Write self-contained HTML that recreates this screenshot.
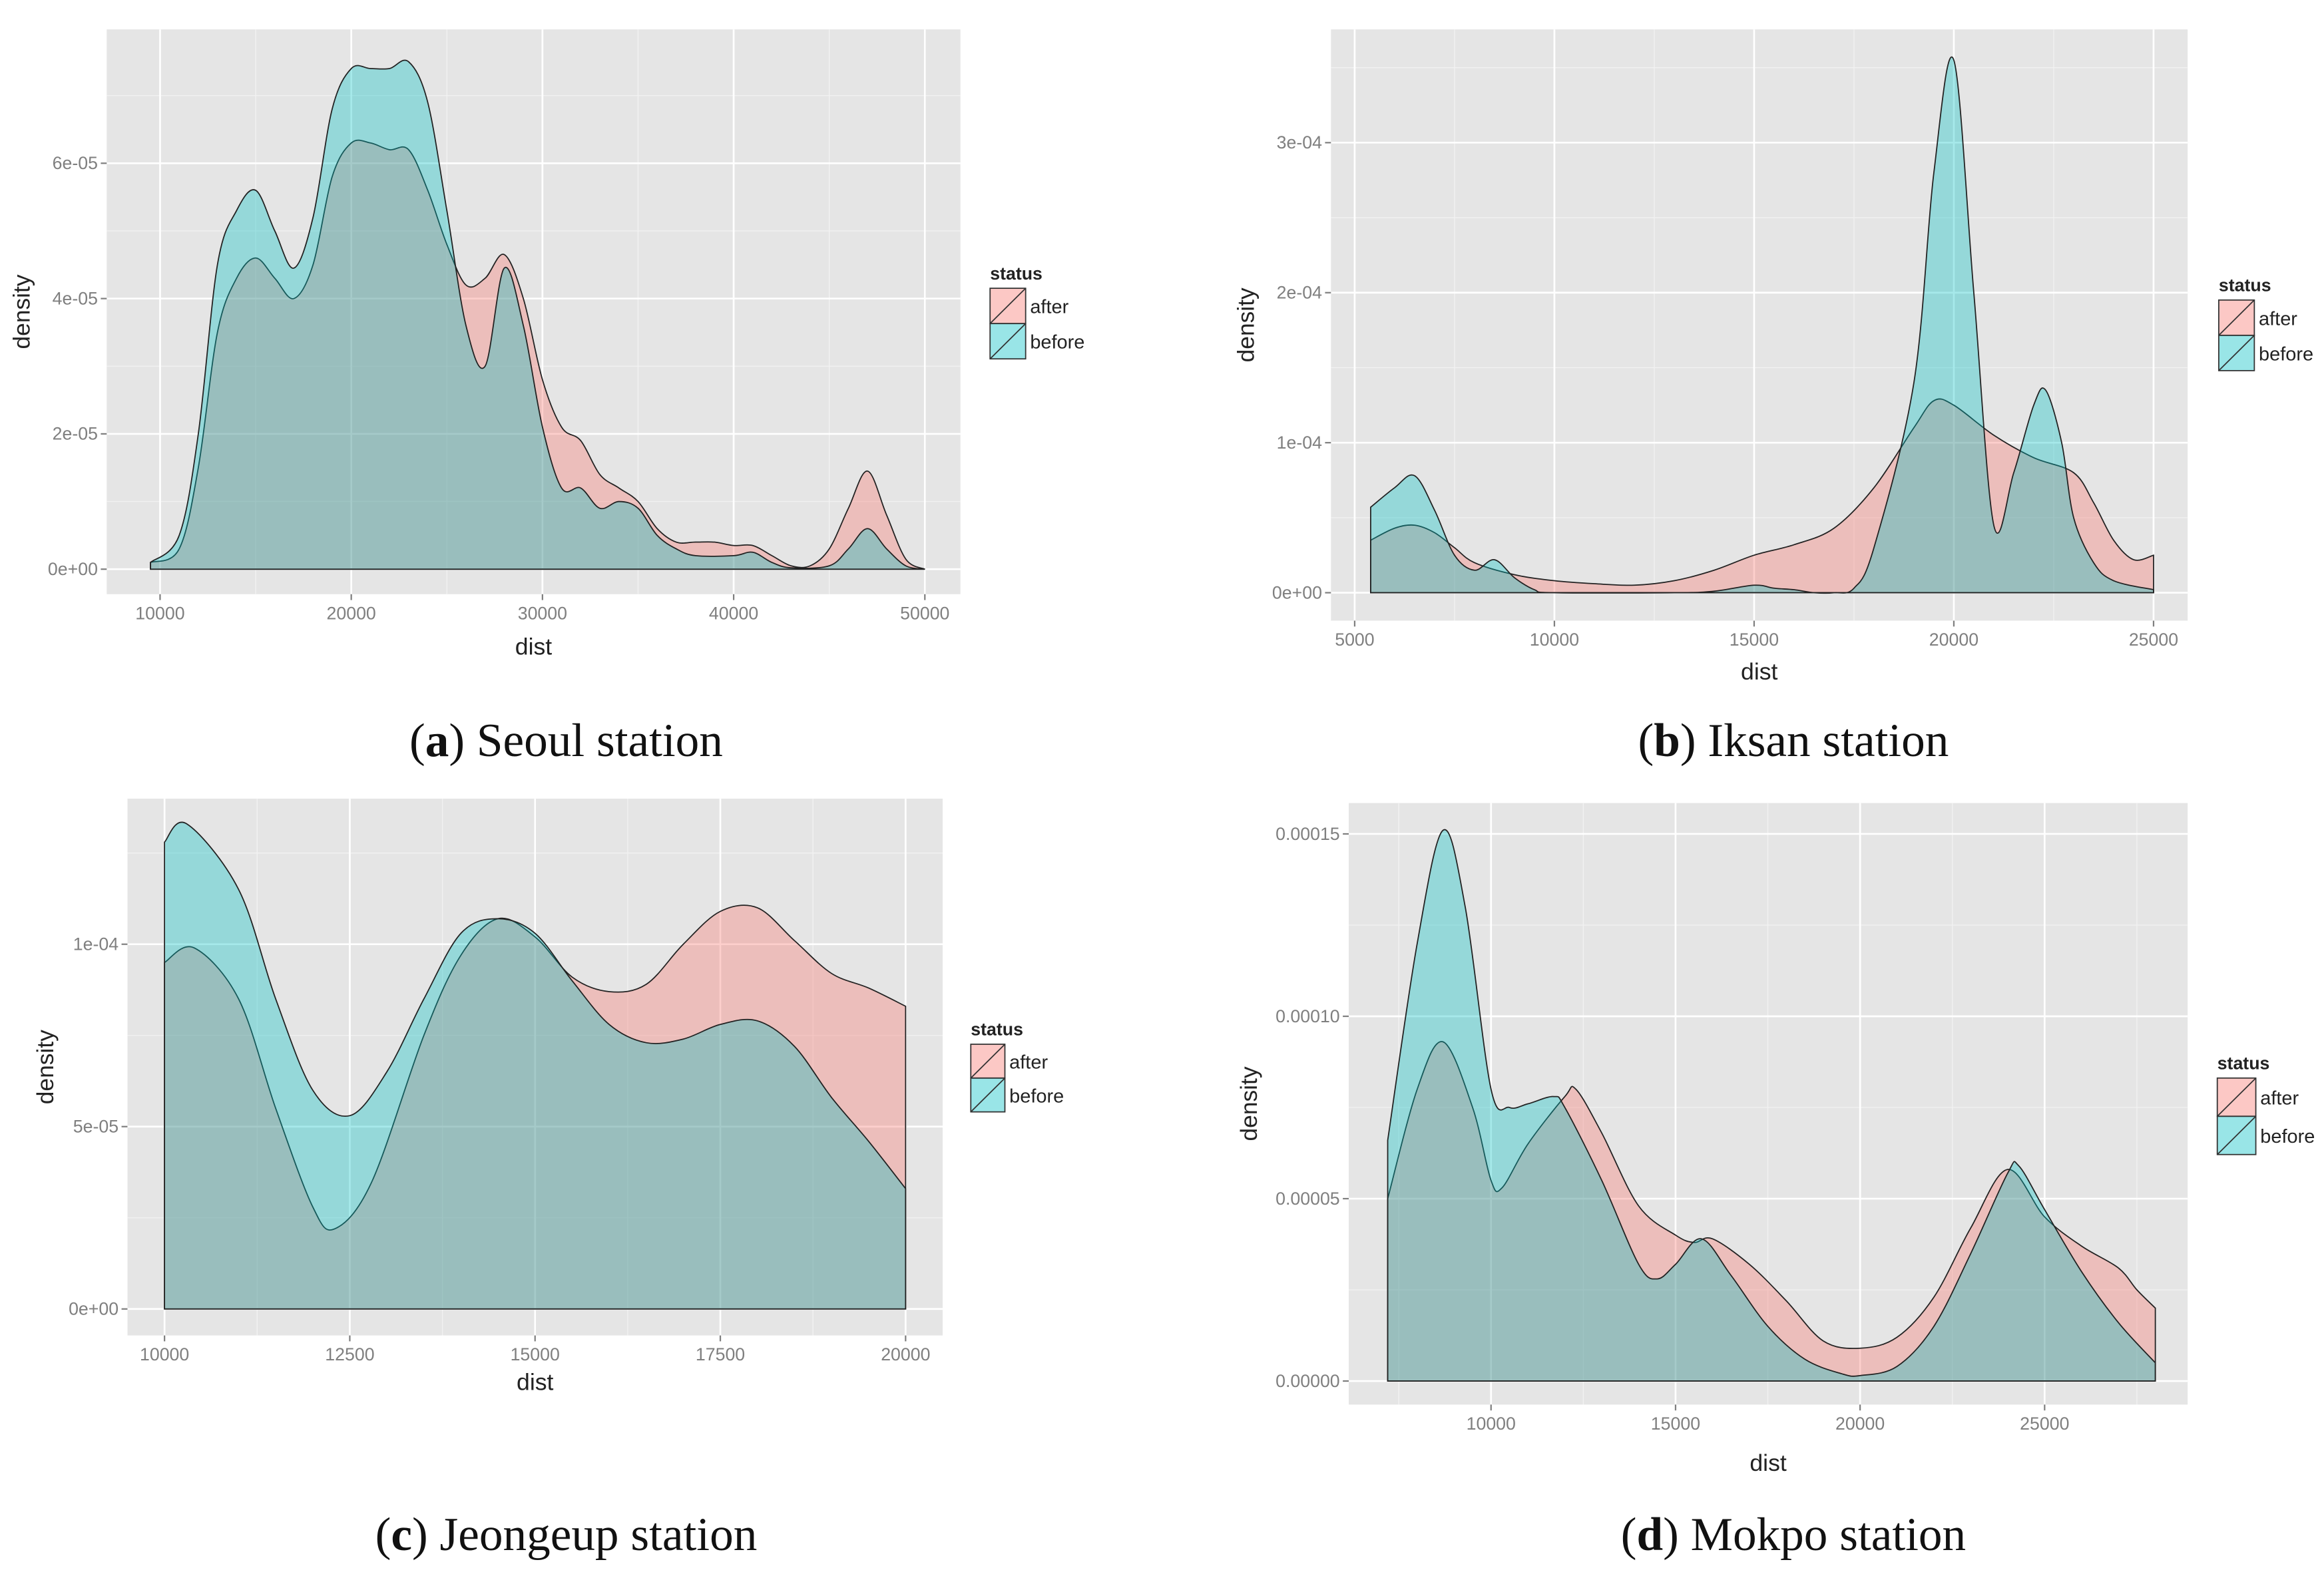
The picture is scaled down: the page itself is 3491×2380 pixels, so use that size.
<!DOCTYPE html>
<html><head><meta charset="utf-8">
<style>
html,body{margin:0;padding:0;background:#fff;}
svg{display:block;}
.tick{font-family:"Liberation Sans",sans-serif;font-size:12px;fill:#7f7f7f;}
.axt{font-family:"Liberation Sans",sans-serif;font-size:16px;fill:#222;}
.leg{font-family:"Liberation Sans",sans-serif;font-size:13px;fill:#222;}
.legt{font-family:"Liberation Sans",sans-serif;font-size:12px;font-weight:bold;fill:#222;}
.cap{font-family:"Liberation Serif",serif;font-size:32px;fill:#111;}
</style></head>
<body>
<svg id="fig" width="3491" height="2380" viewBox="0 0 1568 1077" preserveAspectRatio="none" xmlns="http://www.w3.org/2000/svg"></svg>
<script>
// values in thousands (dist) and 1e-5 (density)
const seoulBeforeX=[9.5,11,12,13,14,15,16,17,18,19,20,21,22,23,24,25,26,27,28,29,30,31,32,33,34,35,36,37,38,40,41,42,43,45,46,47,48,49,50];
const seoulBefore=[0.1,0.5,2,4.5,5.3,5.6,5.0,4.45,5.2,6.8,7.4,7.4,7.4,7.5,6.9,5.3,3.6,3.0,4.45,3.6,2.1,1.2,1.2,0.9,1.0,0.9,0.5,0.3,0.2,0.2,0.25,0.1,0.02,0.05,0.3,0.6,0.3,0.05,0];
const seoulAfterX=[9.5,11,12,13,14,15,16,17,18,19,20,21,22,23,24,25,26,27,28,29,30,31,32,33,34,35,36,37,38,39,40,41,42,43,44,45,46,47,48,49,50];
const seoulAfter=[0.1,0.3,1.5,3.5,4.3,4.6,4.3,4.0,4.5,5.8,6.3,6.3,6.2,6.2,5.6,4.8,4.2,4.3,4.65,4.0,2.8,2.1,1.9,1.4,1.2,1.0,0.6,0.4,0.4,0.4,0.35,0.35,0.2,0.05,0.05,0.3,0.9,1.45,0.8,0.15,0];

const iksanBeforeX=[5.4,6,6.5,7,7.5,8,8.5,9,9.5,10,13,14,15,15.5,16,16.5,17,17.5,18,19,19.5,20,20.5,21,21.5,22,22.3,22.7,23,23.5,24,25];
const iksanBefore=[5.7,7,7.8,5.5,2.5,1.5,2.2,1.0,0.2,0,0,0.1,0.5,0.3,0.2,0,0,0.3,3,14,28,35.5,20,4.5,8,12.5,13.5,10,5,2,0.8,0.2];
const iksanAfterX=[5.4,6,6.5,7,7.5,8,9,10,11,12,13,14,15,16,17,18,19,19.5,20,21,22,23,23.5,24,24.5,25];
const iksanAfter=[3.5,4.3,4.5,4.0,3.0,2.0,1.2,0.8,0.6,0.5,0.8,1.5,2.5,3.2,4.3,7,11,12.8,12.5,10.5,9.0,8,6,3.5,2.2,2.5];

const jeongBeforeX=[10,10.3,11,11.5,12,12.5,13,13.5,14,14.5,15,15.5,16,16.5,17,17.5,18,18.5,19,19.5,20];
const jeongBefore=[12.8,13.3,11.5,8.5,6,5.3,6.5,8.5,10.3,10.7,10.3,9.0,7.8,7.3,7.4,7.8,7.9,7.2,5.8,4.6,3.3];
const jeongAfterX=[10,10.4,11,11.5,12,12.3,12.8,13.5,14,14.5,15,15.5,16,16.5,17,17.5,18,18.5,19,19.5,20];
const jeongAfter=[9.5,9.9,8.5,5.5,2.8,2.2,3.5,7.5,9.7,10.7,10.2,9.1,8.7,8.9,10.0,10.9,11.0,10.1,9.2,8.8,8.3];

const mokpoBeforeX=[7.2,8,8.7,9.3,10,10.5,11,11.7,12,13,14,14.5,15,15.7,16.5,17.5,18.5,19.5,20,21,22,23,24,24.3,25,26,27,28];
const mokpoBefore=[6.6,12,15.1,13,8.0,7.5,7.6,7.8,7.5,5.5,3.2,2.8,3.2,3.9,2.9,1.5,0.6,0.2,0.15,0.4,1.5,3.5,5.7,5.9,4.7,3.0,1.6,0.5];
const mokpoAfterX=[7.2,8,8.7,9.5,10,10.3,11,12,12.3,13,14,15,15.5,16,17,18,19,20,21,22,23,24,25,26,27,27.5,28];
const mokpoAfter=[5.0,8.0,9.3,7.5,5.5,5.3,6.5,7.8,8.0,6.8,4.8,4.0,3.8,3.9,3.2,2.2,1.1,0.9,1.2,2.3,4.2,5.8,4.5,3.7,3.1,2.5,2.0];

const seoulXTicks=["10000","20000","30000","40000","50000"];
const seoulYTicks=["0e+00","2e-05","4e-05","6e-05"];
const iksanXTicks=["5000","10000","15000","20000","25000"];
const iksanYTicks=["0e+00","1e-04","2e-04","3e-04"];
const jeongXTicks=["10000","12500","15000","17500","20000"];
const jeongYTicks=["0e+00","5e-05","1e-04"];
const mokpoXTicks=["10000","15000","20000","25000"];
const mokpoYTicks=["0.00000","0.00005","0.00010","0.00015"];

const NS="http://www.w3.org/2000/svg";
const svg=document.getElementById('fig');
function mk(tag,attrs,parent){const e=document.createElementNS(NS,tag);for(const k in attrs)e.setAttribute(k,attrs[k]);(parent||svg).appendChild(e);return e;}

function smooth(pts){
  let d="M"+pts[0][0]+","+pts[0][1];
  for(let i=0;i<pts.length-1;i++){
    const p0=pts[Math.max(0,i-1)],p1=pts[i],p2=pts[i+1],p3=pts[Math.min(pts.length-1,i+2)];
    const c1x=p1[0]+(p2[0]-p0[0])/6,c1y=p1[1]+(p2[1]-p0[1])/6;
    const c2x=p2[0]-(p3[0]-p1[0])/6,c2y=p2[1]-(p3[1]-p1[1])/6;
    d+=" C"+c1x+","+c1y+" "+c2x+","+c2y+" "+p2[0]+","+p2[1];
  }
  return d;
}

function panel(cfg){
  const g=mk('g',{});
  
  
  const bg=mk('rect',{x:cfg.L,y:cfg.T,width:cfg.R-cfg.L,height:cfg.B-cfg.T,fill:'#E5E5E5'},g);
  
  
  const sx=v=>cfg.x0px+(v-cfg.x0)*cfg.xs;
  const sy=v=>cfg.y0px-v*cfg.ys;
  for(let v=cfg.x0-cfg.xstep*1.5;v<=cfg.x0+cfg.xstep*(cfg.xt.length+1);v+=cfg.xstep){const p=sx(v);if(p>cfg.L&&p<cfg.R)mk('line',{x1:p,x2:p,y1:cfg.T,y2:cfg.B,stroke:'#F2F2F2','stroke-width':0.6},g);}
  for(let i=-1;i<=cfg.yt.length;i++){const p=sy((i+0.5)*cfg.ystep);if(p>cfg.T&&p<cfg.B)mk('line',{x1:cfg.L,x2:cfg.R,y1:p,y2:p,stroke:'#F2F2F2','stroke-width':0.6},g);}
  cfg.xt.forEach((t,i)=>{const p=sx(cfg.x0+i*cfg.xstep);
    mk('line',{x1:p,x2:p,y1:cfg.T,y2:cfg.B,stroke:'#fff','stroke-width':1.2},g);
    mk('line',{x1:p,x2:p,y1:cfg.B,y2:cfg.B+4,stroke:'#7f7f7f','stroke-width':1},g);
    const tx=mk('text',{x:p,y:cfg.B+17,'text-anchor':'middle',class:'tick'},g);tx.textContent=t;
    });
  cfg.yt.forEach((t,i)=>{const p=sy(i*cfg.ystep);
    mk('line',{x1:cfg.L,x2:cfg.R,y1:p,y2:p,stroke:'#fff','stroke-width':1.2},g);
    mk('line',{x1:cfg.L-4,x2:cfg.L,y1:p,y2:p,stroke:'#7f7f7f','stroke-width':1},g);
    const tx=mk('text',{x:cfg.L-6,y:p+4,'text-anchor':'end',class:'tick'},g);tx.textContent=t;
    });
  [[cfg.ax,cfg.ay,'#F8766D','after'],[cfg.bx,cfg.by,'#00BFC4','before']].forEach(s=>{
    const pts=s[0].map((x,i)=>[sx(x*1000),sy(s[1][i])]);
    const d=smooth(pts)+" L"+pts[pts.length-1][0]+","+sy(0)+" L"+pts[0][0]+","+sy(0)+" Z";
    const p=mk('path',{d:d,fill:s[2],'fill-opacity':0.35,stroke:'#222','stroke-width':0.8},g);
    
    
  });
  const xl=mk('text',{x:(cfg.L+cfg.R)/2,y:cfg.xlabY,'text-anchor':'middle',class:'axt'},g);xl.textContent='dist';
  
  const yl=mk('text',{x:0,y:0,'text-anchor':'middle',class:'axt',transform:'translate('+cfg.ylabX+','+(cfg.T+cfg.B)/2+') rotate(-90)'},g);yl.textContent='density';
  
  const lg=mk('g',{},g);
  
  const lt=mk('text',{x:cfg.lx,y:cfg.ly,class:'legt'},lg);lt.textContent='status';
  [['after','#F8766D'],['before','#00BFC4']].forEach((e,i)=>{
    const y=cfg.ly+6+i*cfg.lh;
    const r=mk('rect',{x:cfg.lx,y:y,width:cfg.lh,height:cfg.lh,fill:e[1],'fill-opacity':0.4,stroke:'#333','stroke-width':0.8},lg);
    
    mk('line',{x1:cfg.lx,y1:y+cfg.lh,x2:cfg.lx+cfg.lh,y2:y,stroke:'#333','stroke-width':0.8},lg);
    const t=mk('text',{x:cfg.lx+cfg.lh+3,y:y+cfg.lh/2+5,class:'leg'},lg);t.textContent=e[0];
    
  });
  const c=mk('text',{x:cfg.capX,y:cfg.capY,'text-anchor':'middle',class:'cap'},g);
  c.innerHTML='(<tspan font-weight="bold">'+cfg.letter+'</tspan>) '+cfg.caption;
  
}

panel({name:'panel-seoul',L:72,R:648,T:20,B:404,x0:10000,x0px:108,xs:0.0129,xstep:10000,y0px:387,ys:46,ystep:2,
  xt:seoulXTicks,yt:seoulYTicks,ax:seoulAfterX,ay:seoulAfter,bx:seoulBeforeX,by:seoulBefore,
  xlabY:445,ylabX:20,lx:668,ly:190,lh:24,capX:382,capY:514,letter:'a',caption:'Seoul station'});
panel({name:'panel-iksan',L:898,R:1476,T:20,B:422,x0:5000,x0px:914,xs:0.02695,xstep:5000,y0px:403,ys:10.2,ystep:10,
  xt:iksanXTicks,yt:iksanYTicks,ax:iksanAfterX,ay:iksanAfter,bx:iksanBeforeX,by:iksanBefore,
  xlabY:462,ylabX:846,lx:1497,ly:198,lh:24,capX:1210,capY:514,letter:'b',caption:'Iksan station'});
panel({name:'panel-jeongeup',L:86,R:636,T:543,B:908,x0:10000,x0px:111,xs:0.05,xstep:2500,y0px:890,ys:24.8,ystep:5,
  xt:jeongXTicks,yt:jeongYTicks,ax:jeongAfterX,ay:jeongAfter,bx:jeongBeforeX,by:jeongBefore,
  xlabY:945,ylabX:36,lx:655,ly:704,lh:23,capX:382,capY:1054,letter:'c',caption:'Jeongeup station'});
panel({name:'panel-mokpo',L:910,R:1476,T:546,B:955,x0:10000,x0px:1006,xs:0.0249,xstep:5000,y0px:939,ys:24.8,ystep:5,
  xt:mokpoXTicks,yt:mokpoYTicks,ax:mokpoAfterX,ay:mokpoAfter,bx:mokpoBeforeX,by:mokpoBefore,
  xlabY:1000,ylabX:848,lx:1496,ly:727,lh:26,capX:1210,capY:1054,letter:'d',caption:'Mokpo station'});
</script>
</body></html>
